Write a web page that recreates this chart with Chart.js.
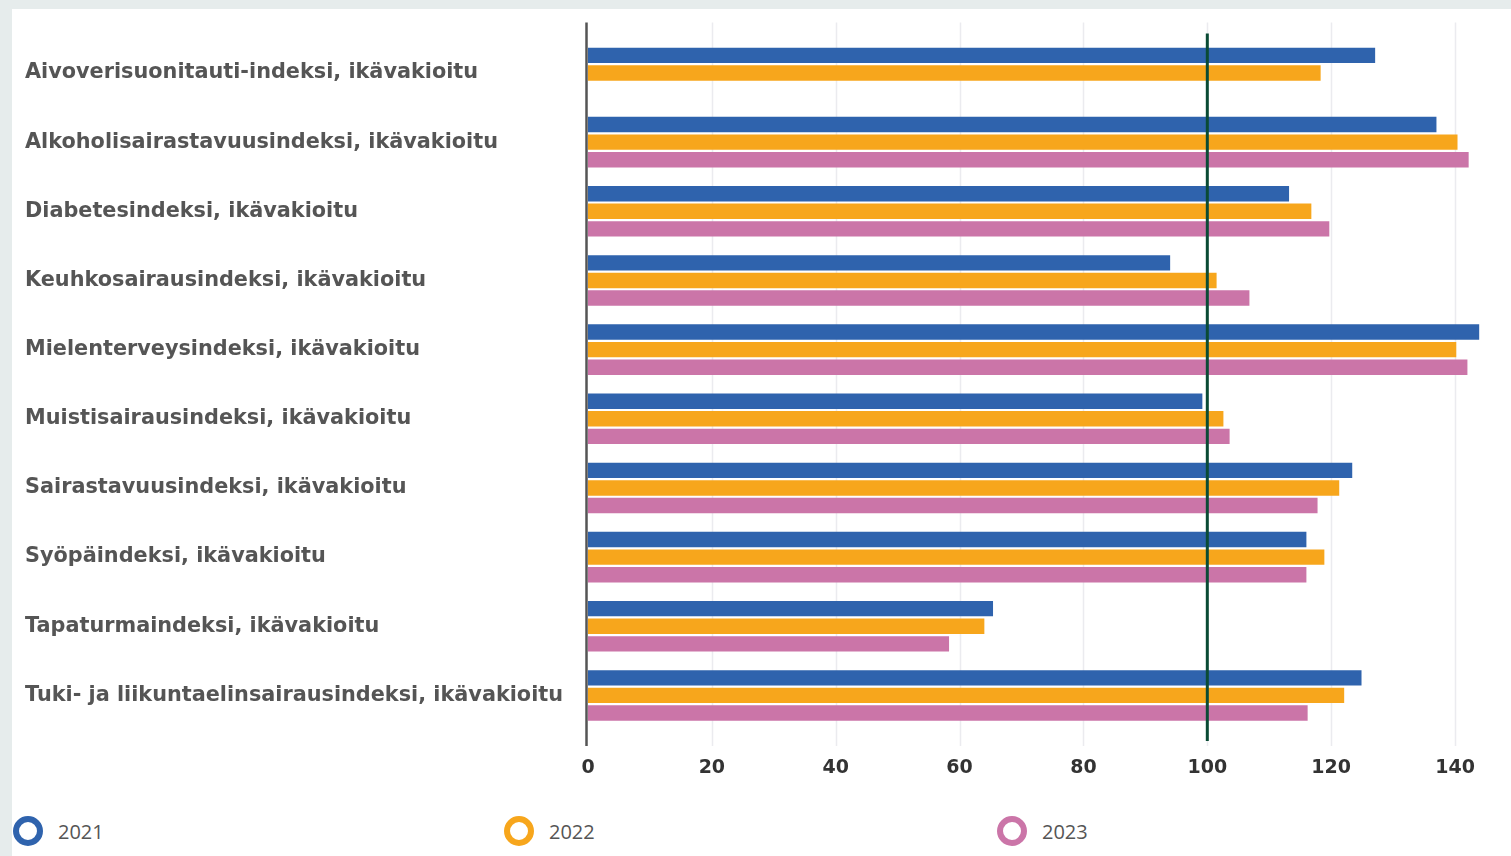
<!DOCTYPE html>
<html lang="fi">
<head>
<meta charset="utf-8">
<title>Ikävakioidut sairastavuusindeksit</title>
<script src="https://cdn.jsdelivr.net/npm/chart.js@4.4.1/dist/chart.umd.min.js"></script>
<style>
	html, body {
		margin: 0;
		padding: 0;
		width: 1511px;
		height: 856px;
		overflow: hidden;
		background: #e6ecec;
	}
	.panel {
		position: absolute;
		left: 12px;
		top: 9px;
		right: 0;
		bottom: 0;
		background: #fff;
	}
	.chart-wrap {
		position: absolute;
		left: 0;
		top: 0;
		width: 1511px;
		height: 800px;
	}
	.legend {
		position: absolute;
		left: 0;
		top: 816px;
		width: 1511px;
		height: 30px;
		font-family: 'Open Sans', sans-serif;
		font-size: 20px;
		color: #555;
	}
	.legend-item {
		position: absolute;
		top: 0;
		height: 30px;
		display: flex;
		align-items: center;
	}
	.legend-ring {
		box-sizing: border-box;
		width: 30px;
		height: 30px;
		border-radius: 50%;
		border: 6px solid;
		background: #fff;
		margin-right: 15px;
	}
</style>
</head>
<body>
<div class="panel"></div>
<div class="chart-wrap"><canvas id="index-chart" width="1511" height="800"></canvas></div>
<div class="legend" id="legend"></div>
<script>
const categories = [
	'Aivoverisuonitauti-indeksi, ikävakioitu',
	'Alkoholisairastavuusindeksi, ikävakioitu',
	'Diabetesindeksi, ikävakioitu',
	'Keuhkosairausindeksi, ikävakioitu',
	'Mielenterveysindeksi, ikävakioitu',
	'Muistisairausindeksi, ikävakioitu',
	'Sairastavuusindeksi, ikävakioitu',
	'Syöpäindeksi, ikävakioitu',
	'Tapaturmaindeksi, ikävakioitu',
	'Tuki- ja liikuntaelinsairausindeksi, ikävakioitu',
];
const years = ['2021', '2022', '2023'];
const values2021 = [127.1, 137.0, 113.2, 94.0, 143.9, 99.2, 123.4, 116.0, 65.4, 124.9];
const values2022 = [118.3, 140.4, 116.8, 101.5, 140.2, 102.6, 121.3, 118.9, 64.0, 122.1];
const values2023 = [null, 142.2, 119.7, 106.8, 142.0, 103.6, 117.8, 116.0, 58.3, 116.2];
const xTicks = [0, 20, 40, 60, 80, 100, 120, 140];
const referenceValue = 100;

const colors = ['#2f63ad', '#f7a61c', '#cb75a8'];
const series = [values2021, values2022, values2023];

// vertical grid lines and the left axis line run a bit past the plot area
const gridPlugin = {
	id: 'extendedGrid',
	beforeDatasetsDraw(chart) {
		const { ctx, chartArea, scales } = chart;
		ctx.save();
		ctx.strokeStyle = '#ebebef';
		ctx.lineWidth = 1.5;
		for (const v of xTicks.slice(1)) {
			const x = Math.round(scales.x.getPixelForValue(v)) + 0.5;
			ctx.beginPath();
			ctx.moveTo(x, chartArea.top - 16);
			ctx.lineTo(x, chartArea.bottom + 16);
			ctx.stroke();
		}
		ctx.strokeStyle = '#555';
		ctx.lineWidth = 2.5;
		const x0 = scales.x.getPixelForValue(0) - 1.5;
		ctx.beginPath();
		ctx.moveTo(x0, chartArea.top - 16);
		ctx.lineTo(x0, chartArea.bottom + 16);
		ctx.stroke();
		ctx.restore();
	},
	afterDatasetsDraw(chart) {
		const { ctx, chartArea, scales } = chart;
		const x = scales.x.getPixelForValue(referenceValue);
		ctx.save();
		ctx.strokeStyle = '#0a4b35';
		ctx.lineWidth = 3;
		ctx.beginPath();
		ctx.moveTo(x, chartArea.top - 5);
		ctx.lineTo(x, chartArea.bottom + 11);
		ctx.stroke();
		ctx.restore();
	},
};

const chart = new Chart('index-chart', {
	type: 'bar',
	data: {
		labels: categories,
		datasets: years.map((year, i) => ({
			label: year,
			data: series[i],
			backgroundColor: colors[i],
			borderWidth: 0,
			categoryPercentage: 0.763,
			barPercentage: 0.875,
		})),
	},
	options: {
		indexAxis: 'y',
		responsive: false,
		animation: false,
		devicePixelRatio: 1,
		layout: {
			padding: { left: 25, top: 38.4, right: 25, bottom: 0 },
		},
		scales: {
			x: {
				min: 0,
				max: 145,
				grid: { display: false },
				border: { display: false },
				ticks: {
					stepSize: 20,
					includeBounds: false,
					padding: 19,
					color: '#333',
					font: { family: 'DejaVu Sans', weight: 'bold', size: 19 },
				},
				afterFit: (scale) => {
					scale.height = 70;
				},
			},
			y: {
				grid: { display: false },
				border: { display: false },
				ticks: {
					crossAlign: 'far',
					color: '#555',
					font: { family: 'DejaVu Sans', weight: 'bold', size: 20.8 },
				},
				afterFit: (scale) => {
					scale.width = 563;
				},
			},
		},
		plugins: {
			legend: { display: false },
			tooltip: { enabled: false },
		},
	},
	plugins: [gridPlugin],
});

// legend spread across the bottom, one slot per year
const legendEl = document.getElementById('legend');
const legendLeft = [13, 504, 997];
chart.data.datasets.forEach((ds, i) => {
	const item = document.createElement('div');
	item.className = 'legend-item';
	item.style.left = legendLeft[i] + 'px';
	const ring = document.createElement('span');
	ring.className = 'legend-ring';
	ring.style.borderColor = ds.backgroundColor;
	const text = document.createElement('span');
	text.textContent = ds.label;
	item.appendChild(ring);
	item.appendChild(text);
	legendEl.appendChild(item);
});
</script>
</body>
</html>
